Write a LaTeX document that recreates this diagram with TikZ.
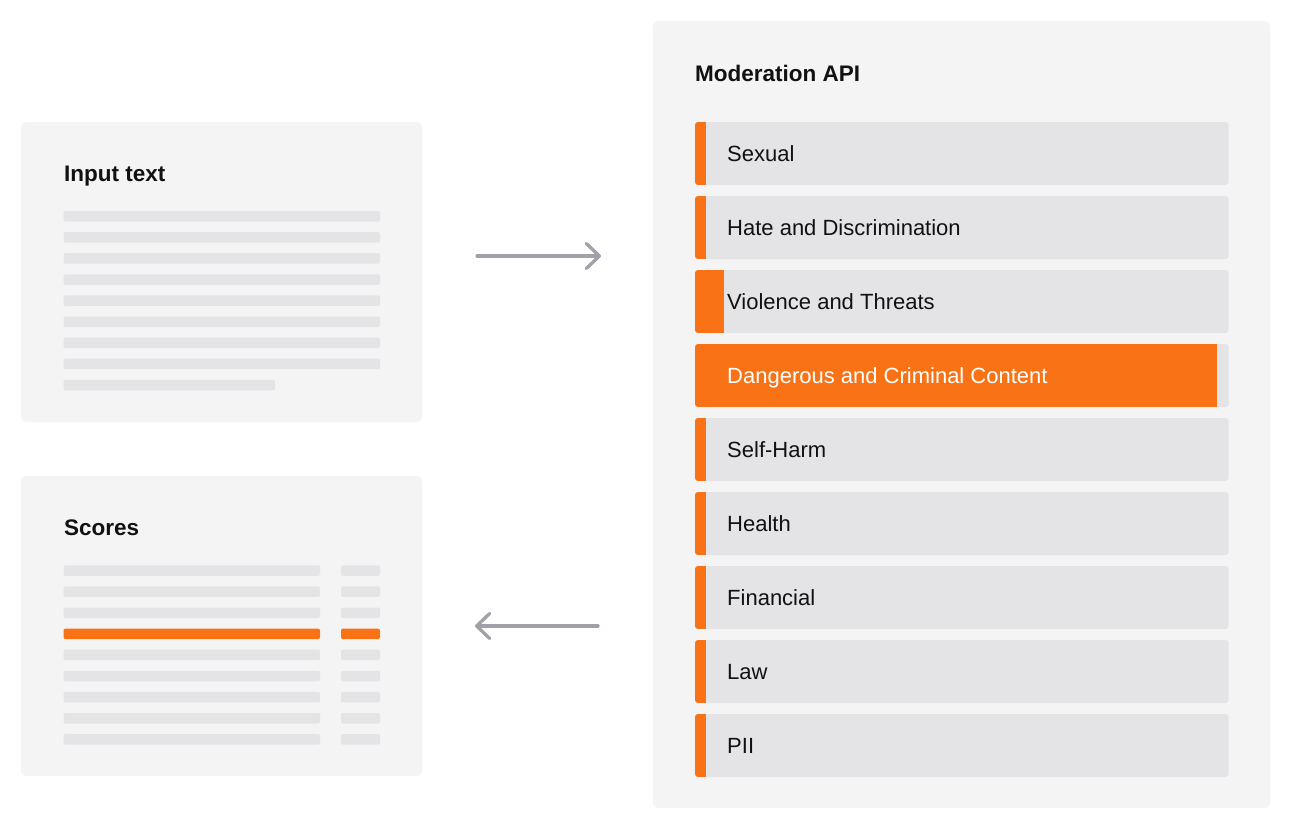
\documentclass[tikz,border=0pt]{standalone}
\usepackage{fontspec}
\setmainfont{Liberation Sans}
\usetikzlibrary{arrows.meta}
\definecolor{panelc}{HTML}{F4F4F5}
\definecolor{barc}{HTML}{E4E4E7}
\definecolor{orangec}{HTML}{F97316}
\definecolor{arrowc}{HTML}{A1A1AA}
\definecolor{textc}{HTML}{111111}
\tikzset{
  panel/.style={fill=panelc, rounded corners=5pt},
  ph/.style={fill=barc, rounded corners=2pt},
  phhot/.style={fill=orangec, rounded corners=2pt},
  heading/.style={anchor=base west, inner sep=0pt, font=\fontsize{22.5}{26}\selectfont\bfseries, text=textc},
  rowlabel/.style={anchor=base west, inner sep=0pt, font=\fontsize{22}{26}\selectfont, text=textc},
  rowbox/.style={fill=barc, rounded corners=3pt},
  flow/.style={draw=arrowc, line width=3.3pt, line cap=round,
    -{Straight Barb[length=13pt,width=25pt,line cap=round,line join=round]}},
}
\begin{document}
\begin{tikzpicture}[x=1pt,y=-1pt]
\useasboundingbox (0,0) rectangle (1292,830);
\fill[white] (0,0) rectangle (1292,830);

% Input panel
\fill[panel] (21,122) rectangle (422,422);
\node[heading] (inTitle) at (64,181.5) {Input text};
\foreach \y in {211,232.1,253.2,274.3,295.4,316.5,337.6,358.7}{
  \fill[ph] (63.5,\y) rectangle (380,\y+10.5);
}
\fill[ph] (63.5,379.8) rectangle (275,390.3);

% Scores panel
\fill[panel] (21,476) rectangle (422,776);
\node[heading] (scTitle) at (64,535) {Scores};
\foreach \i in {0,...,8}{
  \pgfmathsetmacro{\y}{565.3+21.1*\i}
  \ifnum\i=3
    \fill[phhot] (63.5,\y) rectangle (320,\y+10.5);
    \fill[phhot] (341,\y) rectangle (380,\y+10.5);
  \else
    \fill[ph] (63.5,\y) rectangle (320,\y+10.5);
    \fill[ph] (341,\y) rectangle (380,\y+10.5);
  \fi
}

% Moderation API panel
\fill[panel] (653,21) rectangle (1270,808);
\node[heading] (apiTitle) at (695,81) {Moderation API};

\foreach \i/\lab/\w/\tc in {0/Sexual/705.5/textc,
                           1/Hate and Discrimination/705.5/textc,
                           2/Violence and Threats/724/textc,
                           3/Dangerous and Criminal Content/1216.5/white,
                           4/Self-Harm/705.5/textc,
                           5/Health/705.5/textc,
                           6/Financial/705.5/textc,
                           7/Law/705.5/textc,
                           8/PII/705.5/textc}{
  \pgfmathsetmacro{\y}{122+74*\i}
  \fill[rowbox] (695,\y) rectangle (1228.5,\y+63);
  \begin{scope}
    \clip[rounded corners=3pt] (695,\y) rectangle (1228.5,\y+63);
    \fill[orangec] (695,\y) rectangle (\w,\y+63);
  \end{scope}
  \node[rowlabel, text=\tc] (row\i) at (727,\y+39.5) {\lab};
}

% arrows
\coordinate (aInS) at (477,256);
\coordinate (aInE) at (601,256);
\coordinate (aOutS) at (598,626);
\coordinate (aOutE) at (475,626);
\draw[flow] (aInS) -- (aInE);
\draw[flow] (aOutS) -- (aOutE);
\end{tikzpicture}
\end{document}
